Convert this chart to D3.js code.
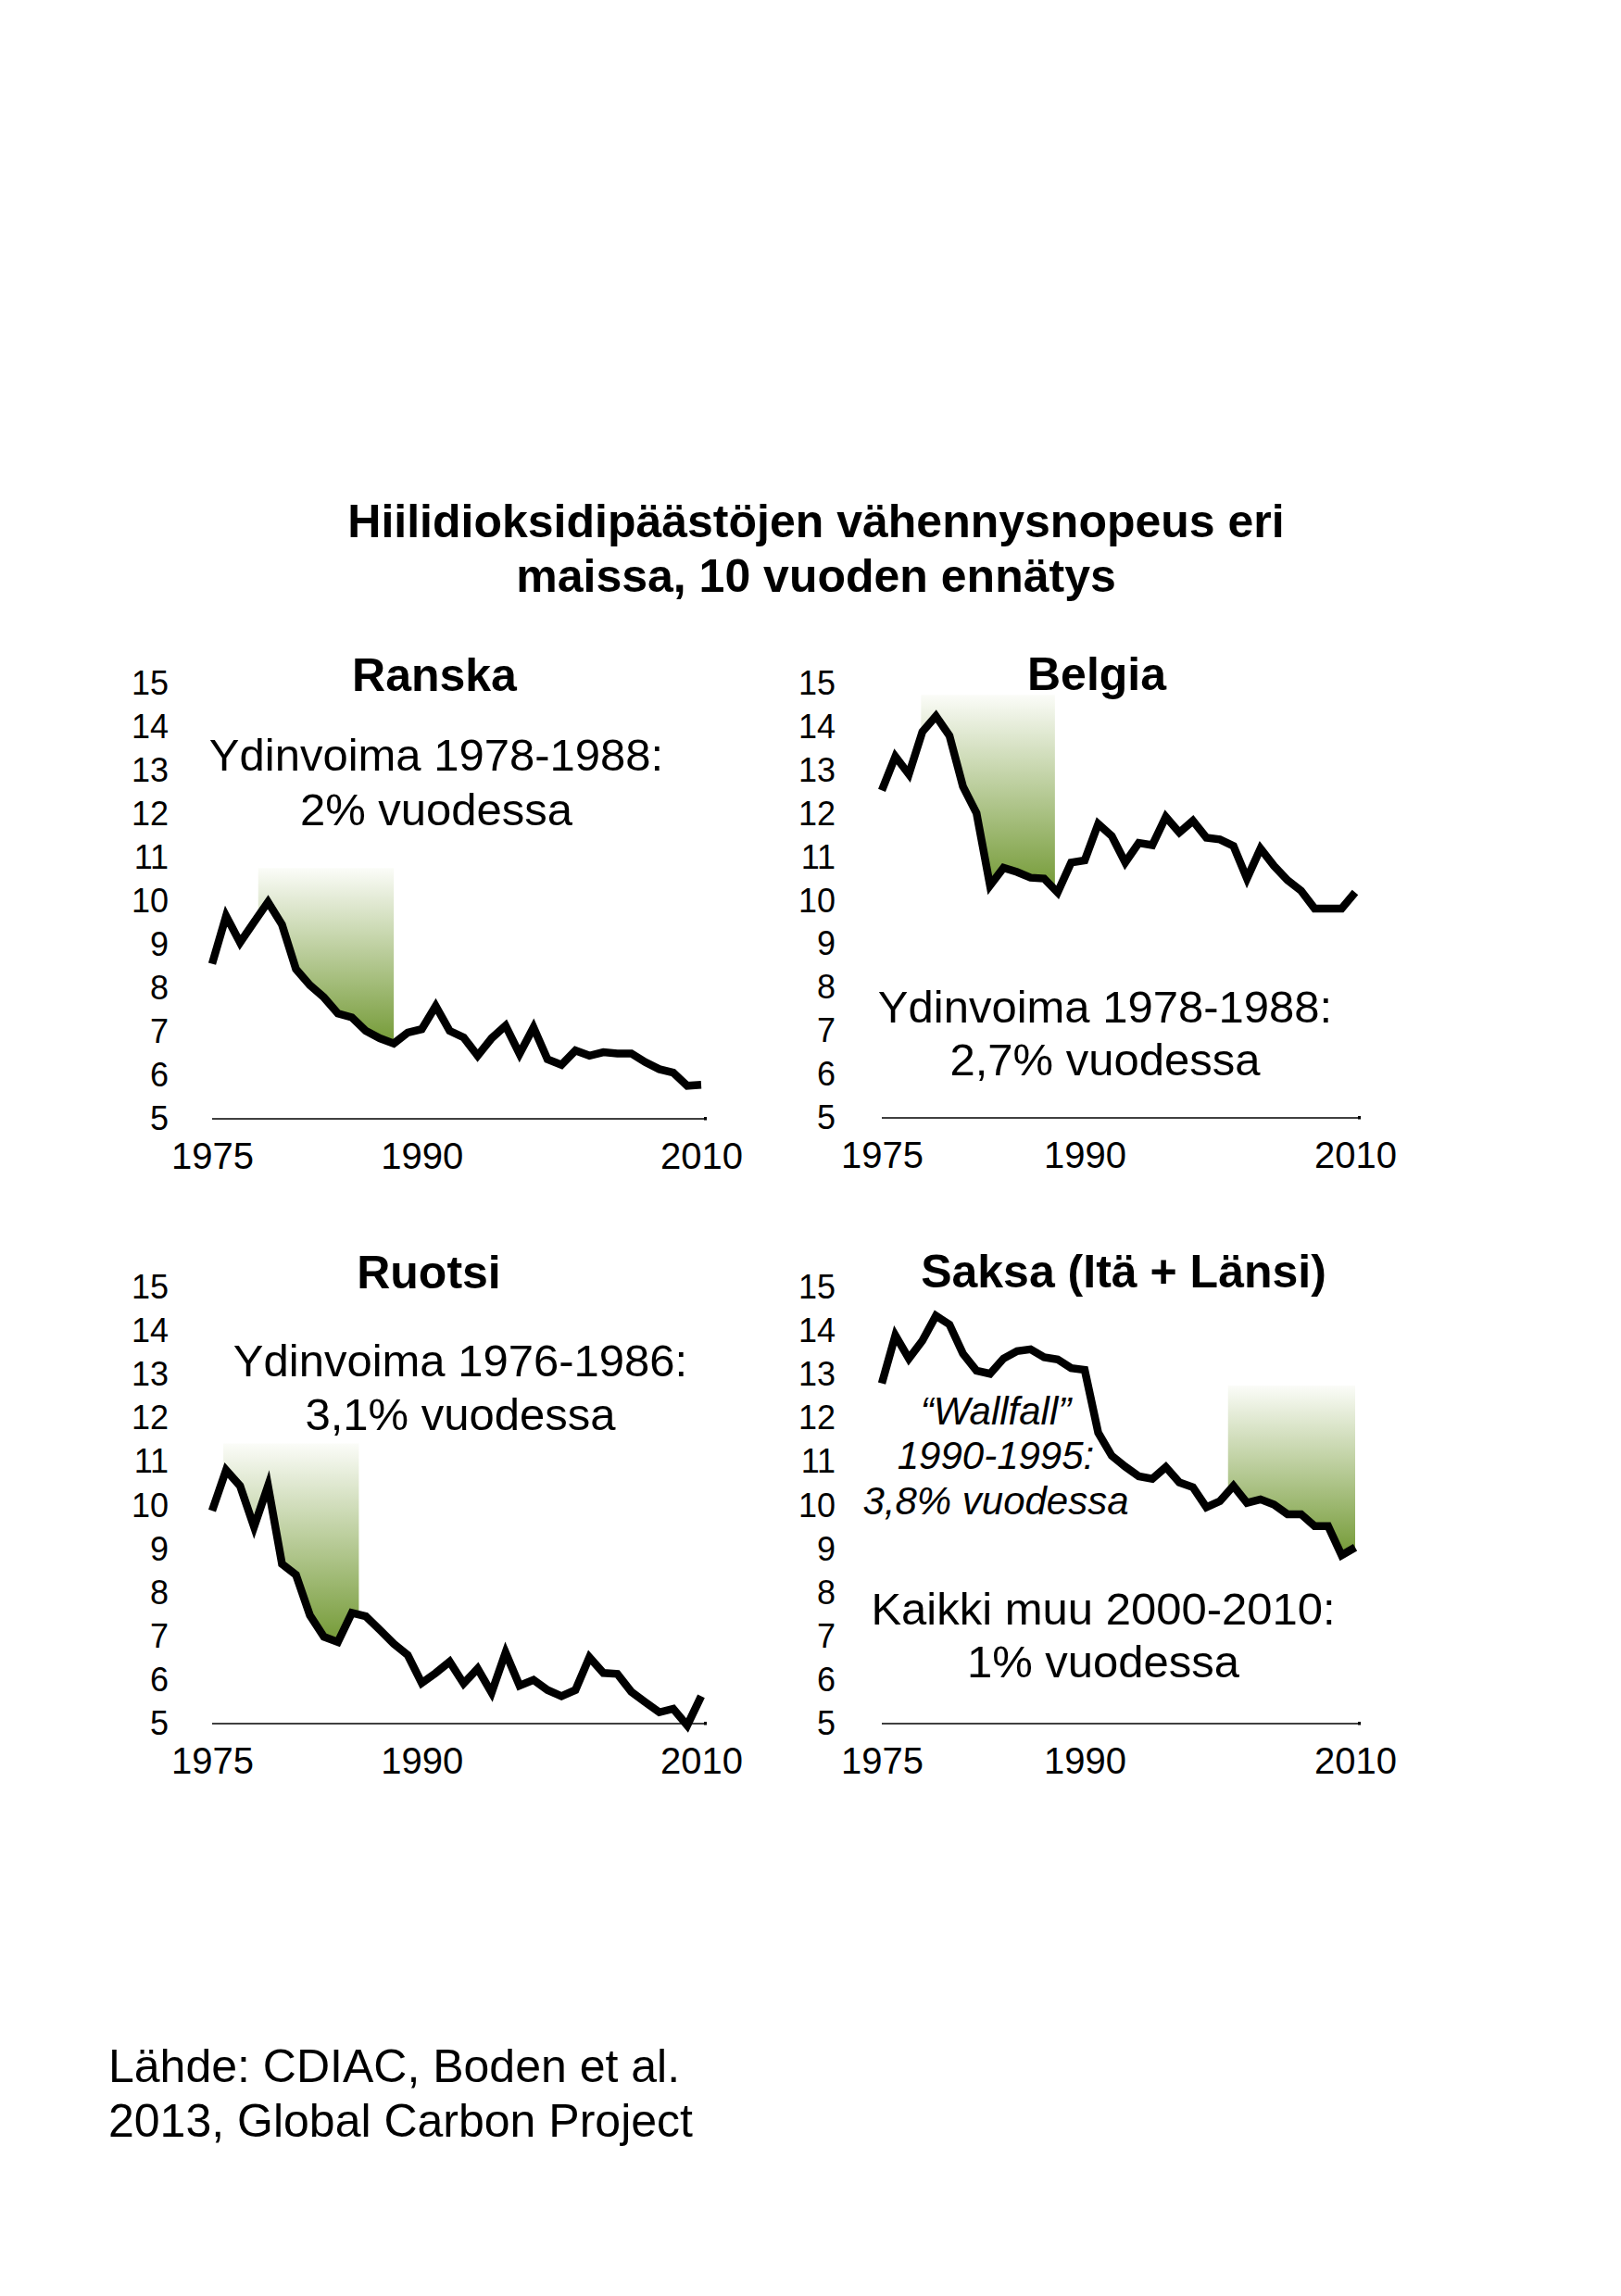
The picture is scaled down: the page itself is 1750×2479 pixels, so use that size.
<!DOCTYPE html>
<html>
<head>
<meta charset="utf-8">
<script src="https://cdn.jsdelivr.net/npm/d3@7"></script>
<style>
  body { margin: 0; background: #fff; }
  text { font-family: "Liberation Sans", Arial, Helvetica, sans-serif; fill: #000; }
</style>
</head>
<body>
<div class="page"></div>
<script>
// CO2 per capita, t/person
var years = d3.range(1975, 2011);
var yTicks = [5, 6, 7, 8, 9, 10, 11, 12, 13, 14, 15];
var xTicks = [1975, 1990, 2010];

var ranska = [8.56, 9.66, 9.05, 9.52, 9.98, 9.46, 8.44, 8.07, 7.79, 7.42, 7.33, 7.02, 6.85, 6.73, 6.98, 7.06, 7.59, 7.02, 6.87, 6.45,
  6.85, 7.14, 6.49, 7.10, 6.37, 6.24, 6.57, 6.45, 6.53, 6.50, 6.50, 6.30, 6.14, 6.06, 5.76, 5.78];
var belgia = [12.54, 13.32, 12.91, 13.89, 14.25, 13.80, 12.63, 12.02, 10.35, 10.76, 10.66, 10.53, 10.51, 10.19, 10.88, 10.93, 11.77, 11.49, 10.88, 11.33,
  11.28, 11.93, 11.57, 11.84, 11.45, 11.41, 11.26, 10.51, 11.20, 10.80, 10.47, 10.23, 9.82, 9.82, 9.82, 10.19];
var ruotsi = [9.88, 10.81, 10.45, 9.51, 10.45, 8.66, 8.41, 7.48, 6.99, 6.87, 7.54, 7.46, 7.15, 6.83, 6.57, 5.93, 6.16, 6.42, 5.92, 6.26,
  5.71, 6.63, 5.87, 6.00, 5.77, 5.63, 5.77, 6.52, 6.16, 6.14, 5.73, 5.49, 5.26, 5.34, 4.96, 5.63];
var saksa = [12.80, 13.90, 13.37, 13.78, 14.35, 14.15, 13.48, 13.09, 13.02, 13.37, 13.54, 13.58, 13.40, 13.35, 13.15, 13.11, 11.67, 11.14, 10.89, 10.67,
  10.61, 10.88, 10.53, 10.42, 9.96, 10.10, 10.45, 10.06, 10.14, 10.02, 9.80, 9.80, 9.53, 9.53, 8.86, 9.04];

// shaded periods: [from, to, top of shading]
var ranskaFill = [1978.3, 1988, 10.76];
var belgiaFill = [1977.9, 1987.8, 14.74];
var ruotsiFill = [1975.8, 1985.5, 11.42];
var saksaFill = [2000.6, 2010, 12.75];

var W = 1750, H = 2479;

var panels = [
  { name: "Ranska", data: ranska, fill: ranskaFill, left: 229, right: 757, top: 738, bottom: 1208, labelX: 182,
    title: [469, 746], notes: [{ x: 471, lines: [["Ydinvoima 1978-1988:", 832], ["2% vuodessa", 891]] }] },
  { name: "Belgia", data: belgia, fill: belgiaFill, left: 952, right: 1463, top: 738, bottom: 1207, labelX: 902,
    title: [1184, 745], notes: [{ x: 1193, lines: [["Ydinvoima 1978-1988:", 1104], ["2,7% vuodessa", 1161]] }] },
  { name: "Ruotsi", data: ruotsi, fill: ruotsiFill, left: 229, right: 757, top: 1390, bottom: 1861, labelX: 182,
    title: [463, 1391], notes: [{ x: 497, lines: [["Ydinvoima 1976-1986:", 1486], ["3,1% vuodessa", 1544]] }] },
  { name: "Saksa (Itä + Länsi)", data: saksa, fill: saksaFill, left: 952, right: 1463, top: 1390, bottom: 1861, labelX: 902,
    title: [1213, 1390], notes: [
      { x: 1075, italic: true, lines: [["\u201cWallfall\u201d", 1538], ["1990-1995:", 1586], ["3,8% vuodessa", 1635]] },
      { x: 1191, lines: [["Kaikki muu 2000-2010:", 1754], ["1% vuodessa", 1811]] }] }
];

var svg = d3.select(".page").append("svg")
  .attr("width", W)
  .attr("height", H);

svg.append("rect").attr("width", W).attr("height", H).attr("fill", "#fff");

var grad = svg.append("defs").append("linearGradient")
  .attr("id", "green")
  .attr("x1", 0).attr("y1", 0).attr("x2", 0).attr("y2", 1);
grad.append("stop").attr("offset", "0%").attr("stop-color", "#fbfcf8");
grad.append("stop").attr("offset", "100%").attr("stop-color", "#749a36");

// main title
svg.append("text")
  .attr("x", 881).attr("y", 580)
  .attr("text-anchor", "middle")
  .style("font-size", "50px").style("font-weight", "bold")
  .text("Hiilidioksidipäästöjen vähennysnopeus eri");
svg.append("text")
  .attr("x", 881).attr("y", 639)
  .attr("text-anchor", "middle")
  .style("font-size", "50px").style("font-weight", "bold")
  .text("maissa, 10 vuoden ennätys");

function valueAt(series, yr) {
  var i = Math.min(Math.floor(yr - 1975), series.length - 2);
  var t = yr - 1975 - i;
  return series[i] + (series[i + 1] - series[i]) * t;
}

panels.forEach(function(p) {
  var x = d3.scaleLinear().domain([1975, 2010]).range([p.left, p.right]);
  var y = d3.scaleLinear().domain([5, 15]).range([p.bottom, p.top]);
  var g = svg.append("g");

  // shaded area between the top of the band and the line
  var f = p.fill;
  var pts = [{ year: f[0], v: valueAt(p.data, f[0]) }];
  years.forEach(function(yr, i) {
    if (yr > f[0] && yr < f[1]) pts.push({ year: yr, v: p.data[i] });
  });
  pts.push({ year: f[1], v: valueAt(p.data, f[1]) });

  g.append("path")
    .datum(pts)
    .attr("fill", "url(#green)")
    .attr("d", d3.area()
      .x(function(d) { return x(d.year); })
      .y0(y(f[2]))
      .y1(function(d) { return y(d.v); }));

  // y labels
  var ya = g.append("g")
    .attr("transform", "translate(" + p.labelX + ",0)")
    .call(d3.axisLeft(y).tickValues(yTicks).tickSize(0).tickPadding(0).tickFormat(d3.format("d")));
  ya.select(".domain").remove();
  ya.selectAll("text").style("font-size", "36px").style("font-family", null).attr("fill", "#000");

  // x axis
  var xa = g.append("g")
    .attr("transform", "translate(0," + p.bottom + ")")
    .call(d3.axisBottom(x).tickValues(xTicks).tickSize(0).tickPadding(26).tickFormat(d3.format("d")));
  xa.select(".domain").remove();
  xa.selectAll("text").style("font-size", "40px").style("font-family", null).attr("fill", "#000");

  g.append("line")
    .attr("x1", x(1975)).attr("x2", x(2010) + 5)
    .attr("y1", y(5)).attr("y2", y(5))
    .attr("stroke", "#000").attr("stroke-width", 1.6);
  g.append("rect")
    .attr("x", x(2010) + 3).attr("y", y(5) - 2)
    .attr("width", 3).attr("height", 3.5)
    .attr("fill", "#000");

  // the series
  g.append("path")
    .datum(p.data)
    .attr("fill", "none")
    .attr("stroke", "#000")
    .attr("stroke-width", 8.5)
    .attr("stroke-linejoin", "miter")
    .attr("d", d3.line()
      .x(function(d, i) { return x(years[i]); })
      .y(function(d) { return y(d); }));

  // panel title
  g.append("text")
    .attr("x", p.title[0]).attr("y", p.title[1])
    .attr("text-anchor", "middle")
    .style("font-size", "50px").style("font-weight", "bold")
    .text(p.name);

  p.notes.forEach(function(n) {
    n.lines.forEach(function(l) {
      g.append("text")
        .attr("x", n.x).attr("y", l[1])
        .attr("text-anchor", "middle")
        .style("font-size", n.italic ? "42px" : "49px")
        .style("font-style", n.italic ? "italic" : "normal")
        .text(l[0]);
    });
  });
});

// source
svg.append("text").attr("x", 117).attr("y", 2248).style("font-size", "50px").text("Lähde: CDIAC, Boden et al.");
svg.append("text").attr("x", 117).attr("y", 2307).style("font-size", "50px").text("2013, Global Carbon Project");
</script>
</body>
</html>
